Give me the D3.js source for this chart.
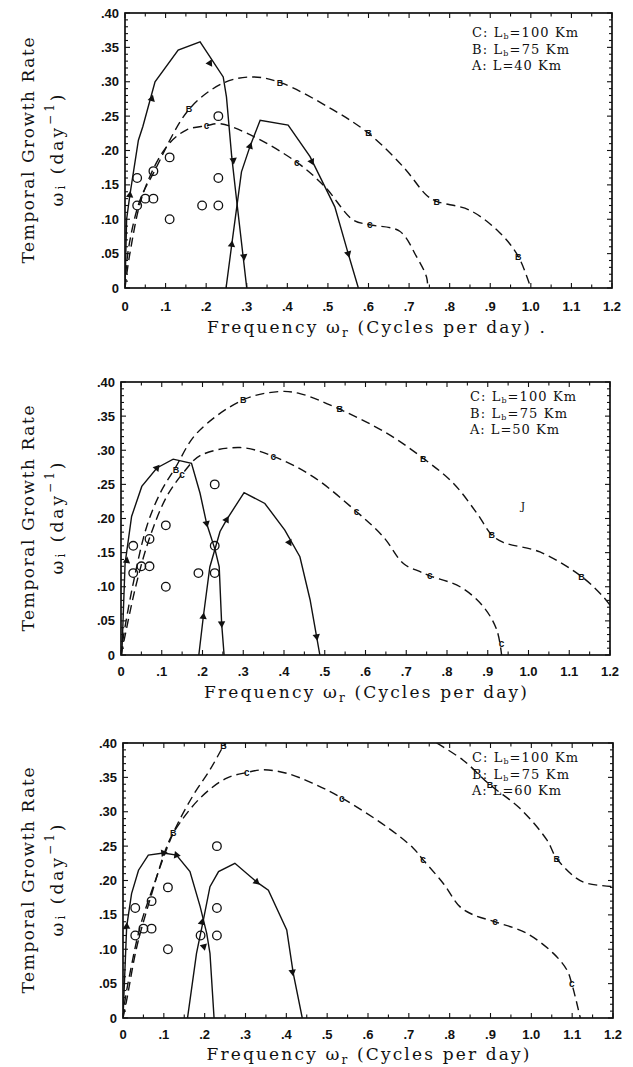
<!DOCTYPE html>
<html>
<head>
<meta charset="utf-8">
<script src="https://cdn.jsdelivr.net/npm/d3@7"></script>
<style>
  html, body { margin: 0; padding: 0; background: #fff; }
  svg { display: block; }
</style>
</head>
<body>
<svg id="chart" width="633" height="1067"></svg>
<script>
// ---------------- DATA ----------------
const xTickValues = [0, 0.1, 0.2, 0.3, 0.4, 0.5, 0.6, 0.7, 0.8, 0.9, 1.0, 1.1, 1.2];
const xTickLabels = ["0", ".1", ".2", ".3", ".4", ".5", ".6", ".7", ".8", ".9", "1.0", "1.1", "1.2"];
const yTickValues = [0, 0.05, 0.10, 0.15, 0.20, 0.25, 0.30, 0.35, 0.40];
const yTickLabels = ["0", ".05", ".10", ".15", ".20", ".25", ".30", ".35", ".40"];

// observations (open circles), same in every panel
const obsFreq = [0.03, 0.03, 0.05, 0.07, 0.07, 0.11, 0.11, 0.19, 0.23, 0.23, 0.23];
const obsRate = [0.16, 0.12, 0.13, 0.17, 0.13, 0.19, 0.10, 0.12, 0.25, 0.16, 0.12];

const legendLengthsA = ["40", "50", "60"];

// Panel 1 (A: L=40 Km)
const p1A1 = [[0,0],[0.004,0.10],[0.012,0.135],[0.033,0.215],[0.044,0.235],[0.074,0.30],[0.131,0.346],[0.185,0.358],[0.242,0.307],[0.25,0.278],[0.263,0.191],[0.275,0.128],[0.30,0]];
const p1A2 = [[0.249,0],[0.263,0.063],[0.287,0.169],[0.308,0.206],[0.333,0.244],[0.402,0.237],[0.456,0.191],[0.517,0.118],[0.55,0.05],[0.575,0]];
const p1B = [[0,0],[0.008,0.055],[0.037,0.128],[0.07,0.167],[0.158,0.26],[0.242,0.298],[0.312,0.307],[0.382,0.299],[0.513,0.259],[0.60,0.225],[0.686,0.176],[0.743,0.135],[0.768,0.126],[0.85,0.113],[0.924,0.080],[0.969,0.046],[1.0,0]];
const p1C = [[0,0],[0.012,0.05],[0.045,0.138],[0.103,0.206],[0.152,0.23],[0.201,0.236],[0.234,0.239],[0.308,0.223],[0.423,0.183],[0.493,0.147],[0.562,0.099],[0.603,0.092],[0.677,0.0825],[0.718,0.046],[0.743,0.016],[0.746,0]];
const p1TriA1 = [[0.012,0.135],[0.066,0.275],[0.209,0.327],[0.267,0.186],[0.293,0.046]];
const p1TriA2 = [[0.263,0.063],[0.308,0.206],[0.46,0.184],[0.55,0.05]];
const p1MarkB = [[0.158,0.26],[0.382,0.299],[0.60,0.225],[0.768,0.126],[0.969,0.046]];
const p1MarkC = [[0.201,0.236],[0.423,0.183],[0.603,0.092]];

// Panel 2 (A: L=50 Km)
const p2A1 = [[0.002,0],[0.01,0.134],[0.026,0.203],[0.051,0.247],[0.088,0.274],[0.128,0.287],[0.173,0.281],[0.194,0.237],[0.21,0.193],[0.231,0.154],[0.241,0.129],[0.247,0.046],[0.253,0]];
const p2A2 = [[0.191,0],[0.202,0.056],[0.218,0.129],[0.243,0.181],[0.259,0.198],[0.302,0.238],[0.353,0.222],[0.402,0.183],[0.439,0.144],[0.464,0.081],[0.48,0.027],[0.488,0]];
const p2B = [[0,0],[0.006,0.027],[0.03,0.105],[0.063,0.188],[0.096,0.237],[0.133,0.274],[0.186,0.325],[0.30,0.374],[0.39,0.386],[0.439,0.383],[0.537,0.36],[0.652,0.325],[0.742,0.288],[0.815,0.252],[0.873,0.208],[0.91,0.176],[0.938,0.165],[1.028,0.151],[1.13,0.115],[1.184,0.085],[1.2,0.073]];
const p2C = [[0,0],[0.006,0.017],[0.038,0.105],[0.071,0.173],[0.112,0.232],[0.153,0.267],[0.194,0.292],[0.292,0.304],[0.374,0.291],[0.472,0.261],[0.578,0.21],[0.644,0.173],[0.693,0.134],[0.734,0.122],[0.758,0.116],[0.832,0.10],[0.889,0.071],[0.922,0.037],[0.934,0]];
const p2TriA1 = [[0.014,0.138],[0.088,0.274],[0.21,0.193],[0.247,0.046]];
const p2TriA2 = [[0.202,0.056],[0.259,0.198],[0.413,0.165],[0.48,0.027]];
const p2MarkB = [[0.135,0.272],[0.30,0.374],[0.537,0.36],[0.742,0.288],[0.91,0.176],[1.13,0.115]];
const p2MarkC = [[0.15,0.264],[0.374,0.291],[0.578,0.21],[0.758,0.116],[0.934,0.017]];

// Panel 3 (A: L=60 Km)
const p3A1 = [[0,0],[0.009,0.133],[0.021,0.181],[0.038,0.215],[0.062,0.237],[0.099,0.24],[0.131,0.237],[0.164,0.213],[0.189,0.162],[0.205,0.123],[0.213,0.094],[0.223,0]];
const p3A2 = [[0.158,0],[0.18,0.094],[0.197,0.143],[0.213,0.191],[0.234,0.213],[0.274,0.225],[0.327,0.198],[0.356,0.186],[0.401,0.128],[0.417,0.065],[0.439,0]];
const p3Bleft = [[0,0],[0.005,0.026],[0.017,0.065],[0.042,0.133],[0.074,0.191],[0.123,0.269],[0.172,0.324],[0.213,0.361],[0.246,0.396],[0.25,0.40]];
const p3Bright = [[0.768,0.40],[0.833,0.375],[0.899,0.339],[0.972,0.305],[1.038,0.259],[1.062,0.232],[1.111,0.203],[1.136,0.196],[1.2,0.191]];
const p3C = [[0,0],[0.009,0.026],[0.034,0.104],[0.066,0.172],[0.107,0.249],[0.127,0.273],[0.189,0.32],[0.254,0.349],[0.303,0.357],[0.344,0.361],[0.401,0.356],[0.466,0.341],[0.536,0.32],[0.646,0.278],[0.711,0.247],[0.735,0.23],[0.784,0.196],[0.825,0.162],[0.858,0.15],[0.911,0.14],[0.989,0.123],[1.054,0.094],[1.087,0.07],[1.099,0.05],[1.12,0]];
const p3TriA1 = [[0.009,0.133],[0.099,0.24],[0.131,0.237],[0.198,0.104]];
const p3TriA2 = [[0.193,0.139],[0.327,0.198],[0.415,0.067]];
const p3MarkB = [[0.123,0.269],[0.246,0.396],[0.899,0.339],[1.062,0.232]];
const p3MarkC = [[0.303,0.357],[0.536,0.32],[0.735,0.23],[0.911,0.14],[1.099,0.05]];

// ---------------- LAYOUT ----------------
const panels = [
  { box: {l:125, r:612, t:13,  b:288},  solid:[p1A1,p1A2], dashed:[p1B,p1C],
    tri:[[p1TriA1,p1A1],[p1TriA2,p1A2]], marks:[[p1MarkB,"B"],[p1MarkC,"c"]],
    leg:{x:472,y:37}, lenA:legendLengthsA[0], dot:true, xtOff:45, xlOff:23 },
  { box: {l:121, r:610, t:382, b:655},  solid:[p2A1,p2A2], dashed:[p2B,p2C],
    tri:[[p2TriA1,p2A1],[p2TriA2,p2A2]], marks:[[p2MarkB,"B"],[p2MarkC,"c"]],
    leg:{x:470,y:401}, lenA:legendLengthsA[1], dot:false, xtOff:43, xlOff:21 },
  { box: {l:123, r:613, t:743, b:1018}, solid:[p3A1,p3A2], dashed:[p3Bleft,p3Bright,p3C],
    tri:[[p3TriA1,p3A1],[p3TriA2,p3A2]], marks:[[p3MarkB,"B"],[p3MarkC,"c"]],
    leg:{x:472,y:762}, lenA:legendLengthsA[2], dot:false, xtOff:42, xlOff:21 }
];

const svg = d3.select("#chart");
const ink = "#111";
const titleFont = "'DejaVu Serif', 'Liberation Serif', serif";
const tickFont = "'Liberation Sans', Arial, sans-serif";
const legFont = "'DejaVu Serif', 'Liberation Serif', serif";

panels.forEach((p, pi) => {
  const B = p.box;
  const x = d3.scaleLinear().domain([0, 1.2]).range([B.l, B.r]);
  const y = d3.scaleLinear().domain([0, 0.4]).range([B.b, B.t]);
  const g = svg.append("g");
  const clipId = "clip" + pi;
  svg.append("clipPath").attr("id", clipId).append("rect")
    .attr("x", B.l).attr("y", B.t).attr("width", B.r - B.l).attr("height", B.b - B.t);

  // minor ticks (inside)
  const xMinor = d3.range(0, 1.2001, 0.05);
  const yMinor = d3.range(0, 0.4001, 0.01);
  xMinor.forEach((v, i) => {
    const L = (i % 2 === 0) ? 5 : 3.5;
    g.append("line").attr("x1", x(v)).attr("x2", x(v)).attr("y1", B.b).attr("y2", B.b - L).attr("stroke", ink).attr("stroke-width", 1.1);
    g.append("line").attr("x1", x(v)).attr("x2", x(v)).attr("y1", B.t).attr("y2", B.t + L).attr("stroke", ink).attr("stroke-width", 1.1);
  });
  yMinor.forEach((v, i) => {
    const L = (i % 5 === 0) ? 5 : 3;
    g.append("line").attr("y1", y(v)).attr("y2", y(v)).attr("x1", B.l).attr("x2", B.l + L).attr("stroke", ink).attr("stroke-width", 1.1);
    g.append("line").attr("y1", y(v)).attr("y2", y(v)).attr("x1", B.r).attr("x2", B.r - L).attr("stroke", ink).attr("stroke-width", 1.1);
  });

  // frame
  g.append("rect").attr("x", B.l).attr("y", B.t).attr("width", B.r - B.l).attr("height", B.b - B.t)
    .attr("fill", "none").attr("stroke", ink).attr("stroke-width", 1.7);

  // tick labels
  g.selectAll(".xl").data(xTickValues).join("text")
    .attr("x", d => x(d)).attr("y", B.b + p.xlOff).attr("text-anchor", "middle")
    .attr("font-family", tickFont).attr("font-weight", "bold").attr("font-size", 13).attr("fill", ink)
    .text((d, i) => xTickLabels[i]);
  g.selectAll(".yl").data(yTickValues).join("text")
    .attr("x", B.l - 6).attr("y", d => y(d)).attr("dy", "0.35em").attr("text-anchor", "end")
    .attr("font-family", tickFont).attr("font-weight", "bold").attr("font-size", 13).attr("fill", ink)
    .text((d, i) => yTickLabels[i]);

  // axis titles
  const xc = (B.l + B.r) / 2;
  const xt = g.append("text").attr("x", xc).attr("y", B.b + p.xtOff).attr("text-anchor", "middle")
    .attr("font-family", titleFont).attr("font-size", 17).attr("fill", ink)
    .attr("textLength", 323).attr("lengthAdjust", "spacing");
  xt.append("tspan").text("Frequency ω");
  xt.append("tspan").attr("font-size", 12).attr("dy", 4).text("r");
  xt.append("tspan").attr("dy", -4).text(" (Cycles per day)");
  if (p.dot) {
    g.append("text").attr("x", xc + 171).attr("y", B.b + p.xtOff)
      .attr("font-family", titleFont).attr("font-size", 17).attr("fill", ink).text(".");
  }
  const cy = (B.t + B.b) / 2;
  g.append("text").attr("transform", `translate(28,${cy}) rotate(-90)`).attr("text-anchor", "middle")
    .attr("dominant-baseline", "central")
    .attr("font-family", titleFont).attr("font-size", 17).attr("fill", ink)
    .attr("textLength", 226).attr("lengthAdjust", "spacing").text("Temporal Growth Rate");
  const yt = g.append("text").attr("transform", `translate(57,${cy}) rotate(-90)`).attr("text-anchor", "middle")
    .attr("dominant-baseline", "central")
    .attr("font-family", titleFont).attr("font-size", 17).attr("fill", ink)
    .attr("textLength", 112).attr("lengthAdjust", "spacing");
  yt.append("tspan").text("ω");
  yt.append("tspan").attr("font-size", 12).attr("dy", 4).text("i");
  yt.append("tspan").attr("dy", -4).text(" (day");
  yt.append("tspan").attr("font-size", 12).attr("dy", -7).text("−1");
  yt.append("tspan").attr("dy", 7).text(")");

  // curves
  const plot = g.append("g").attr("clip-path", `url(#${clipId})`);
  const solidLine = d3.line().x(d => x(d[0])).y(d => y(d[1])).curve(d3.curveLinear);
  const dashLine = d3.line().x(d => x(d[0])).y(d => y(d[1])).curve(d3.curveCatmullRom.alpha(0.5));
  p.solid.forEach(s => plot.append("path").attr("d", solidLine(s)).attr("fill", "none").attr("stroke", ink).attr("stroke-width", 1.4));
  p.dashed.forEach(s => plot.append("path").attr("d", dashLine(s)).attr("fill", "none").attr("stroke", ink)
    .attr("stroke-width", 1.4).attr("stroke-dasharray", "9,5"));

  // triangle markers, oriented along curve
  function angleAt(curve, v) {
    let i = 0;
    while (i < curve.length - 2 && curve[i + 1][0] < v) i++;
    const a = curve[i], b = curve[i + 1];
    return Math.atan2(y(b[1]) - y(a[1]), x(b[0]) - x(a[0])) * 180 / Math.PI;
  }
  const tri = d3.symbol().type(d3.symbolTriangle).size(24);
  p.tri.forEach(([marks, curve]) => {
    marks.forEach(m => {
      const ang = angleAt(curve, m[0]) + 90;
      plot.append("path").attr("d", tri()).attr("fill", ink)
        .attr("transform", `translate(${x(m[0])},${y(m[1])}) rotate(${ang})`);
    });
  });
  // letter markers
  p.marks.forEach(([marks, letter]) => {
    marks.forEach(m => {
      plot.append("text").attr("x", x(m[0])).attr("y", y(m[1])).attr("dy", "0.35em").attr("text-anchor", "middle")
        .attr("font-family", tickFont).attr("font-weight", "bold").attr("font-size", letter === "B" ? 9 : 10).attr("fill", ink).text(letter);
    });
  });

  // observations
  plot.selectAll(".obs").data(obsFreq).join("circle")
    .attr("cx", d => x(d)).attr("cy", (d, i) => y(obsRate[i])).attr("r", 4.3)
    .attr("fill", "none").attr("stroke", ink).attr("stroke-width", 1.3);

  // legend
  const legRows = [["C: L", "b", "=100 Km", 106], ["B: L", "b", "=75 Km", 97], ["A: L=" + p.lenA + " Km", null, null, 89]];
  legRows.forEach((r, i) => {
    const t = g.append("text").attr("x", p.leg.x).attr("y", p.leg.y + i * 16.6)
      .attr("font-family", legFont).attr("font-size", 13).attr("fill", ink)
      .attr("textLength", r[3]).attr("lengthAdjust", "spacing");
    t.append("tspan").text(r[0]);
    if (r[1]) {
      t.append("tspan").attr("font-size", 8).attr("dy", 2).text(r[1]);
      t.append("tspan").attr("dy", -2).text(r[2]);
    }
  });

  if (pi === 1) {
    g.append("text").attr("x", 523).attr("y", 510).attr("font-family", legFont).attr("font-size", 11)
      .attr("fill", ink).attr("text-anchor", "middle").text("J");
  }
});
</script>
</body>
</html>
